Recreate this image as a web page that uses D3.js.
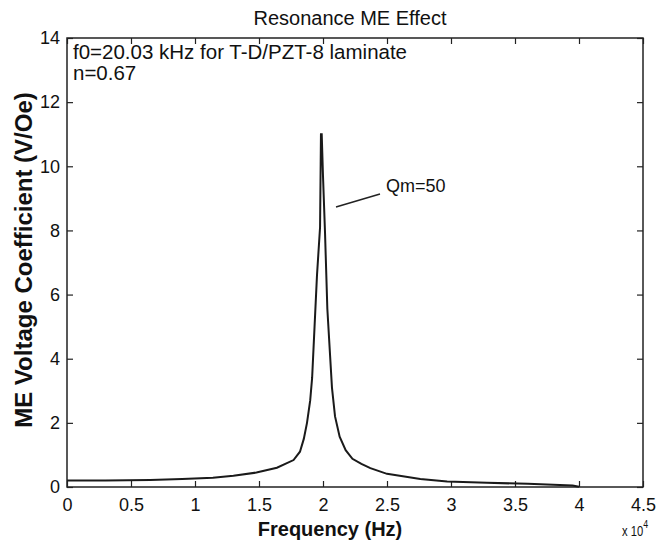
<!DOCTYPE html>
<html>
<head>
<meta charset="utf-8">
<script src="https://cdn.jsdelivr.net/npm/d3@7"></script>
<style>
  body { margin: 0; background: #fff; }
  text { font-family: "Liberation Sans", Arial, sans-serif; fill: #111; }
  .bold { font-weight: bold; }
</style>
</head>
<body>
<div class="chart"></div>
<script>
// frequency in units of 1e4 Hz, ME coefficient in V/Oe
var freq = [0, 0.3, 0.65, 0.9, 1.14, 1.3, 1.48, 1.64, 1.77, 1.82, 1.85, 1.875, 1.90, 1.915, 1.934, 1.953, 1.977, 1.984, 1.99,
            2.0, 2.016, 2.034, 2.07, 2.094, 2.13, 2.177, 2.23, 2.3, 2.37, 2.5, 2.76, 2.97, 3.28, 3.6, 3.85, 3.95, 4.0];
var coef = [0.2, 0.2, 0.22, 0.25, 0.29, 0.35, 0.45, 0.6, 0.84, 1.1, 1.5, 2.0, 2.7, 3.4, 5.0, 6.6, 8.1, 11.0, 11.0,
            9.7, 7.9, 5.55, 3.1, 2.2, 1.57, 1.15, 0.88, 0.72, 0.59, 0.41, 0.25, 0.17, 0.13, 0.1, 0.06, 0.05, 0.01];
var xTicks = [0, 0.5, 1, 1.5, 2, 2.5, 3, 3.5, 4, 4.5];
var yTicks = [0, 2, 4, 6, 8, 10, 12, 14];

var margin = {top: 38, right: 15, bottom: 59, left: 67};
var width = 658 - margin.left - margin.right,
    height = 546 - margin.top - margin.bottom;

var svg = d3.select(".chart")
  .append("svg")
    .attr("width", 658)
    .attr("height", 546)
  .append("g")
    .attr("transform", "translate(" + margin.left + "," + margin.top + ")");

var x = d3.scaleLinear().domain([0, 4.5]).range([0, width]);
var y = d3.scaleLinear().domain([0, 14]).range([height, 0]);

// box
svg.append("rect")
  .attr("width", width)
  .attr("height", height)
  .attr("fill", "none")
  .attr("stroke", "#222")
  .attr("stroke-width", 1.5);

// axes with inward ticks, mirrored on top/right
svg.append("g")
  .attr("transform", "translate(0," + height + ")")
  .call(d3.axisBottom(x).tickValues(xTicks).tickSize(-6).tickPadding(11)
    .tickFormat(function(d) { return d; }));
svg.append("g")
  .call(d3.axisTop(x).tickValues(xTicks).tickSize(-6).tickFormat(""));
svg.append("g")
  .call(d3.axisLeft(y).tickValues(yTicks).tickSize(-6).tickPadding(7));
svg.append("g")
  .attr("transform", "translate(" + width + ",0)")
  .call(d3.axisRight(y).tickValues(yTicks).tickSize(-6).tickFormat(""));

svg.selectAll(".domain").remove();
svg.selectAll(".tick line").attr("stroke", "#222").attr("stroke-width", 1.2);
svg.selectAll(".tick text")
  .style("font-family", null)
  .style("font-size", "18px")
  .style("fill", "#111");

// curve
var line = d3.line()
  .x(function(d, i) { return x(freq[i]); })
  .y(function(d) { return y(d); });

svg.append("path")
  .datum(coef)
  .attr("d", line)
  .attr("fill", "none")
  .attr("stroke", "#1a1a1a")
  .attr("stroke-width", 2);

// annotations
function note(px, py, size, txt, anchor) {
  return svg.append("text")
    .attr("x", px)
    .attr("y", py)
    .attr("text-anchor", anchor || "start")
    .style("font-size", size + "px")
    .text(txt);
}

note(350 - margin.left, 25 - margin.top, 20, "Resonance ME Effect", "middle");
note(6, 21, 20.5, "f0=20.03 kHz for T-D/PZT-8 laminate");
note(6, 42, 20.5, "n=0.67");
note(386 - margin.left, 192 - margin.top, 18, "Qm=50");

svg.append("line")
  .attr("x1", 336 - margin.left).attr("y1", 207 - margin.top)
  .attr("x2", 380 - margin.left).attr("y2", 194 - margin.top)
  .attr("stroke", "#222")
  .attr("stroke-width", 1.5);

svg.append("text")
  .attr("class", "bold")
  .attr("x", 330 - margin.left)
  .attr("y", height + 49)
  .attr("text-anchor", "middle")
  .style("font-size", "20px")
  .text("Frequency (Hz)");

svg.append("text")
  .attr("class", "bold")
  .attr("transform", "translate(-35," + (260 - margin.top) + ") rotate(-90)")
  .attr("text-anchor", "middle")
  .style("font-size", "24px")
  .text("ME Voltage Coefficient (V/Oe)");

var exp = svg.append("text")
  .attr("transform", "translate(" + (622 - margin.left) + "," + (height + 49) + ") scale(0.8,1)")
  .style("font-size", "14px");
exp.append("tspan").text("x 10");
exp.append("tspan").attr("dy", -8).style("font-size", "11px").text("4");
</script>
</body>
</html>
